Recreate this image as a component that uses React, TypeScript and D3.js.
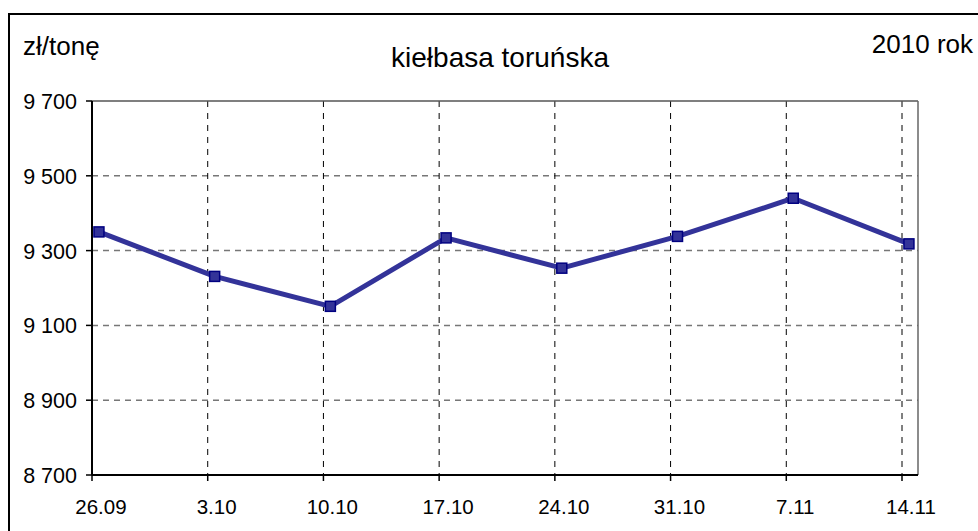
import React from "react";
import * as d3 from "d3";

const categories = ["26.09", "3.10", "10.10", "17.10", "24.10", "31.10", "7.11", "14.11"];
const prices = [9350, 9231, 9151, 9334, 9253, 9338, 9440, 9318];
const yTicks = [8700, 8900, 9100, 9300, 9500, 9700];
// points sit a little to the right of each week's tick
const pointShift = 0.06;

const W = 978;
const H = 531;
const left = 92;
const right = 902;
const plotRight = 918;
const top = 101;
const bottom = 475;

const fmt = (v: number) => d3.format(",")(v).replace(",", " ");

export default function App() {
  const x = d3.scaleLinear().domain([0, categories.length - 1]).range([left, right]);
  const y = d3.scaleLinear().domain([8700, 9700]).range([bottom, top]);

  const line = d3
    .line<number>()
    .x((_d, i) => x(i + pointShift))
    .y((d) => y(d));

  const font = "Liberation Sans, Arial, sans-serif";

  return (
    <svg
      width={W}
      height={H}
      style={{ position: "absolute", left: 0, top: 0, background: "#fff" }}
      fontFamily={font}
    >
      <rect x={9} y={14} width={1000} height={600} fill="none" stroke="#000" strokeWidth={2} />

      <text x={23} y={55} fontSize={26}>zł/tonę</text>
      <text x={500} y={67} fontSize={28} textAnchor="middle">kiełbasa toruńska</text>
      <text x={973} y={53} fontSize={26} textAnchor="end">2010 rok</text>

      {/* horizontal grid */}
      {yTicks.slice(1, -1).map((t) => (
        <line
          key={t}
          x1={left}
          x2={plotRight}
          y1={y(t)}
          y2={y(t)}
          stroke="#777"
          strokeWidth={1.5}
          strokeDasharray="6,5"
        />
      ))}
      {/* vertical grid */}
      {categories.slice(1).map((c, i) => (
        <line
          key={c}
          x1={x(i + 1)}
          x2={x(i + 1)}
          y1={top}
          y2={bottom}
          stroke="#000"
          strokeWidth={1}
          strokeDasharray="6,6"
        />
      ))}
      {/* plot frame top/right */}
      <line x1={left} x2={plotRight} y1={top} y2={top} stroke="#555" strokeWidth={1.5} />
      <line x1={plotRight} x2={plotRight} y1={top} y2={bottom} stroke="#666" strokeWidth={1.5} />

      {/* axes */}
      <line x1={left} x2={left} y1={top} y2={bottom} stroke="#000" strokeWidth={2} />
      <line x1={left} x2={plotRight} y1={bottom} y2={bottom} stroke="#000" strokeWidth={2} />
      {yTicks.map((t) => (
        <g key={t}>
          <line x1={left - 6} x2={left} y1={y(t)} y2={y(t)} stroke="#000" strokeWidth={1.5} />
          <text x={77} y={y(t) + 8} fontSize={21.5} textAnchor="end">{fmt(t)}</text>
        </g>
      ))}
      {categories.map((c, i) => (
        <g key={c}>
          <line x1={x(i)} x2={x(i)} y1={bottom} y2={bottom + 6} stroke="#000" strokeWidth={1.5} />
          <text x={x(i + pointShift) + 2} y={514} fontSize={20.5} textAnchor="middle">{c}</text>
        </g>
      ))}

      <path d={line(prices) ?? ""} fill="none" stroke="#333399" strokeWidth={5} strokeLinejoin="round" />
      {prices.map((p, i) => (
        <rect
          key={i}
          x={x(i + pointShift) - 5}
          y={y(p) - 5}
          width={10}
          height={10}
          fill="#333399"
          stroke="#000080"
          strokeWidth={1.5}
        />
      ))}
    </svg>
  );
}
